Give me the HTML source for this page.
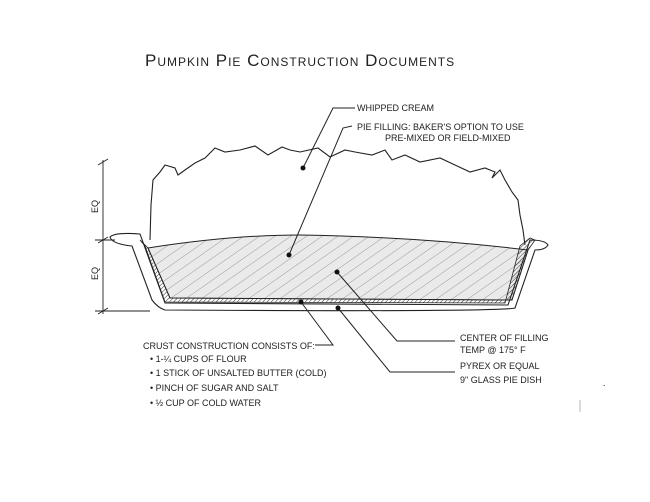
<!DOCTYPE html>
<html><head><meta charset="utf-8"><style>
html,body{margin:0;padding:0;background:#fff;width:650px;height:502px;overflow:hidden}
svg{display:block}
text{font-family:"Liberation Sans",sans-serif;fill:#222}
</style></head><body>
<svg width="650" height="502" viewBox="0 0 650 502" xmlns="http://www.w3.org/2000/svg">
<defs>
<pattern id="h" width="9" height="9" patternUnits="userSpaceOnUse" patternTransform="rotate(55)">
<line x1="0" y1="0" x2="0" y2="9" stroke="#777" stroke-width="0.7"/></pattern>
<pattern id="c" width="3" height="3" patternUnits="userSpaceOnUse" patternTransform="rotate(45)">
<line x1="0" y1="0" x2="0" y2="3" stroke="#333" stroke-width="1"/></pattern>
</defs>
<text x="145" y="66" font-size="17" style="font-variant:small-caps" letter-spacing="1">Pumpkin Pie Construction Documents</text>
<!-- whipped cream -->
<path d="M150,240 L151,205 153,180 L160,172 165,165 L175,168 178,175 L185,170 L195,163 L205,158 L215,148 L225,152 L240,150 L255,146 L268,155 L282,147 L290,150 L300,152 L318,148 L330,157 L345,150 L355,152 L372,155 L385,150 L392,160 L405,155 L420,162 L440,158 L455,165 L470,172 L485,168 L495,172 L492,178 L500,170 L505,180 L512,192 L518,200 L520,215 L523,230 L525,245" fill="none" stroke="#222" stroke-width="1.1"/>
<!-- filling -->
<path d="M148,248 Q230,235 300,235 Q420,237 528,250 L512,300 L170,298 Z" fill="#eaeaea"/>
<path d="M148,248 Q230,235 300,235 Q420,237 528,250 L512,300 L170,298 Z" fill="url(#h)" stroke="#222" stroke-width="1"/>
<!-- crust -->
<path d="M140,240 L148,248 L170,298 L512,300 L528,250 L535,240 L530,238 L520,246 L505,303 L165,302 L145,246 Z" fill="url(#c)" stroke="#222" stroke-width="0.8"/>
<!-- dish -->
<path d="M110,237 Q115,232 140,234 L165,303 L508,305 L530,240 Q545,240 548,245 Q545,250 535,250 L515,308 Q500,312 165,310 Q158,308 152,300 L132,246 Q112,244 110,237 Z" fill="none" stroke="#222" stroke-width="1.1"/>
<!-- dimension -->
<g stroke="#222" stroke-width="0.9" fill="none">
<line x1="103" y1="160" x2="103" y2="314"/>
<line x1="98" y1="165" x2="108" y2="159"/>
<line x1="98" y1="243" x2="108" y2="237"/>
<line x1="98" y1="314" x2="108" y2="308"/>
<line x1="95" y1="240" x2="115" y2="240"/>
<line x1="95" y1="311" x2="150" y2="311"/>
</g>
<text transform="translate(98,213) rotate(-90)" font-size="9">EQ</text>
<text transform="translate(98,280) rotate(-90)" font-size="9">EQ</text>
<!-- leaders -->
<g stroke="#222" stroke-width="1" fill="none">
<polyline points="303,168 333,108 355,108"/>
<polyline points="289,255 343,128 352,126"/>
<polyline points="337,272 397,341 455,341"/>
<polyline points="301,302 333,345 315,345"/>
<polyline points="338,308 390,372 455,372"/>
</g>
<g fill="#111"><circle cx="303" cy="168" r="2.5"/><circle cx="289" cy="255" r="2.5"/><circle cx="337" cy="272" r="2.5"/><circle cx="301" cy="302" r="2.5"/><circle cx="338" cy="308" r="2.5"/></g>
<g font-size="9">
<text x="357" y="111">WHIPPED CREAM</text>
<text x="357" y="130">PIE FILLING: BAKER'S OPTION TO USE</text>
<text x="385" y="141">PRE-MIXED OR FIELD-MIXED</text>
<text x="460" y="341">CENTER OF FILLING</text>
<text x="460" y="353">TEMP @ 175° F</text>
<text x="460" y="369">PYREX OR EQUAL</text>
<text x="460" y="383">9" GLASS PIE DISH</text>
<text x="143" y="349">CRUST CONSTRUCTION CONSISTS OF:</text>
<text x="150" y="362">• 1-¼ CUPS OF FLOUR</text>
<text x="150" y="376">• 1 STICK OF UNSALTED BUTTER (COLD)</text>
<text x="150" y="391">• PINCH OF SUGAR AND SALT</text>
<text x="150" y="406">• ½ CUP OF COLD WATER</text>
</g>
<text x="603" y="386" font-size="9">.</text>
<line x1="580" y1="400" x2="580" y2="412" stroke="#999" stroke-width="0.7"/>
</svg>
</body></html>
